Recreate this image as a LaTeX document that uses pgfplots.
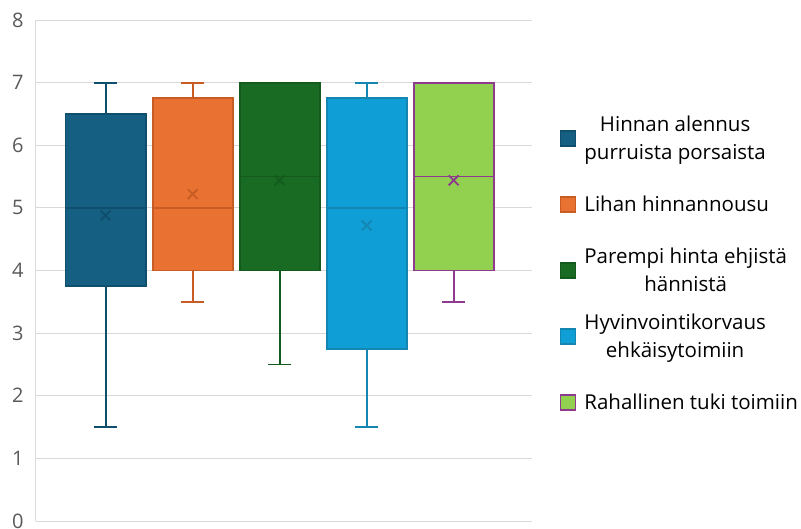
\documentclass[border=0pt]{standalone}
\usepackage{pgfplots}
\pgfplotsset{compat=1.18}
\usepgfplotslibrary{statistics}
\usepackage{fontspec}
\setmainfont{Open Sans}
\definecolor{gridgray}{HTML}{D9D9D9}
\definecolor{tickgray}{HTML}{595959}
\definecolor{cA}{HTML}{156082}
\definecolor{cAd}{HTML}{0F4E6C}
\definecolor{cB}{HTML}{E97132}
\definecolor{cBd}{HTML}{C75D24}
\definecolor{cC}{HTML}{196B24}
\definecolor{cCd}{HTML}{135A1C}
\definecolor{cD}{HTML}{0F9ED5}
\definecolor{cDd}{HTML}{1585B2}
\definecolor{cE}{HTML}{92D050}
\definecolor{cEd}{HTML}{8E3A8E}
\pgfplotsset{sqlegend/.style={legend image code/.code={\draw[##1,line width=1.2pt] (0pt,-7.5pt) rectangle (15pt,7.5pt);}}}
\begin{document}
\begin{tikzpicture}[x=1pt,y=1pt]
\path[use as bounding box] (0,0) rectangle (801,528);
\begin{axis}[
  at={(36pt,7pt)}, anchor=south west,
  scale only axis, width=496pt, height=501pt,
  xmin=0.2, xmax=5.9, ymin=0, ymax=8,
  ytick={0,1,...,8}, xtick=\empty,
  ymajorgrids, grid style={draw=gridgray, line width=1pt},
  axis x line*=bottom, axis y line*=left,
  axis line style={draw=gridgray, line width=1pt},
  major tick length=0pt,
  tick label style={font=\fontsize{20}{24}\selectfont, text=tickgray},
  yticklabel style={xshift=-9pt},
  /pgf/number format/assume math mode=true,
  boxplot/draw direction=y,
  boxplot/box extend=0.92,
  boxplot/whisker extend=0.27,
  boxplot/every box/.style={line width=1.8pt},
  boxplot/every whisker/.style={line width=1.8pt},
  boxplot/every median/.style={line width=1.6pt},
  boxplot/every average/.style={/tikz/mark=x, /tikz/mark size=7pt},
  legend style={at={(axis description cs:1,0.5)}, anchor=west, xshift=28pt,
    draw=none, fill=none, inner sep=0pt, row sep=0pt,
    font=\fontsize{20.5}{28}\selectfont, text=black,
    nodes={align=center, minimum height=66pt, inner xsep=8pt}},
  legend cell align=left,
]
\addplot+[forget plot, line width=1.8pt, boxplot prepared={draw position=1, lower whisker=1.5, lower quartile=3.75, median=5, upper quartile=6.5, upper whisker=7, average=4.88},
  fill=cA, draw=cAd, mark options={draw=cAd, line width=1.5pt}, solid] coordinates {};
\addplot+[forget plot, line width=1.8pt, boxplot prepared={draw position=2, lower whisker=3.5, lower quartile=4, median=5, upper quartile=6.75, upper whisker=7, average=5.22},
  fill=cB, draw=cBd, mark options={draw=cBd, line width=1.5pt}, solid] coordinates {};
\addplot+[forget plot, line width=1.8pt, boxplot prepared={draw position=3, lower whisker=2.5, lower quartile=4, median=5.5, upper quartile=7, upper whisker=7, average=5.44},
  fill=cC, draw=cCd, mark options={draw=cCd, line width=1.5pt}, solid] coordinates {};
\addplot+[forget plot, line width=1.8pt, boxplot prepared={draw position=4, lower whisker=1.5, lower quartile=2.75, median=5, upper quartile=6.75, upper whisker=7, average=4.72},
  fill=cD, draw=cDd, mark options={draw=cDd, line width=1.5pt}, solid] coordinates {};
\addplot+[forget plot, line width=1.8pt, boxplot prepared={draw position=5, lower whisker=3.5, lower quartile=4, median=5.5, upper quartile=7, upper whisker=7, average=5.44},
  fill=cE, draw=cEd, mark options={draw=cEd, line width=1.5pt}, solid] coordinates {};
\addlegendimage{sqlegend, fill=cA, draw=cAd}
\addlegendentry{Hinnan alennus\\purruista porsaista}
\addlegendimage{sqlegend, fill=cB, draw=cBd}
\addlegendentry{Lihan hinnannousu}
\addlegendimage{sqlegend, fill=cC, draw=cCd}
\addlegendentry{Parempi hinta ehjistä\\hännistä}
\addlegendimage{sqlegend, fill=cD, draw=cDd}
\addlegendentry{Hyvinvointikorvaus\\ehkäisytoimiin}
\addlegendimage{sqlegend, fill=cE, draw=cEd}
\addlegendentry{Rahallinen tuki toimiin}
\end{axis}
\end{tikzpicture}
\end{document}
